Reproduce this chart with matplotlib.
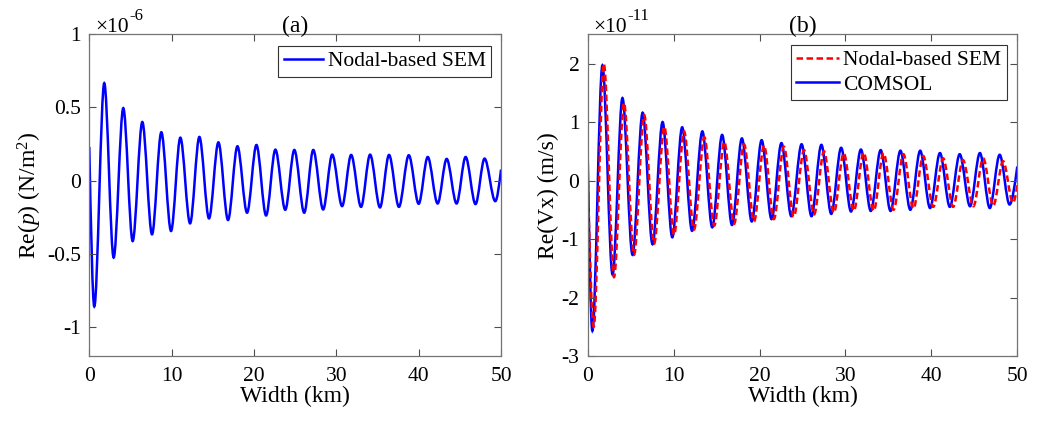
import numpy as np
import matplotlib
matplotlib.use('Agg')
import matplotlib.pyplot as plt
from matplotlib.path import Path
from matplotlib.patches import PathPatch
from matplotlib.lines import Line2D

plt.rcParams['font.family'] = ['Liberation Serif', 'DejaVu Serif']
plt.rcParams['mathtext.fontset'] = 'custom'
plt.rcParams['mathtext.rm'] = 'Liberation Serif'
plt.rcParams['mathtext.it'] = 'Liberation Serif:italic'
plt.rcParams['axes.unicode_minus'] = False

# ---- panel (a): Re(p), x1e-6, start / extrema / end
pa_x = [0.0, 0.61, 1.82, 2.96, 4.13, 5.27, 6.44, 7.62, 8.75, 9.93, 11.06,
        12.24, 13.37, 14.54, 15.68, 16.85, 17.99, 19.16, 20.3, 21.47, 22.6,
        23.8, 24.9, 26.1, 27.2, 28.4, 29.5, 30.7, 31.8, 33.0, 34.1, 35.3,
        36.4, 37.6, 38.8, 40.0, 41.1, 42.3, 43.4, 44.6, 45.7, 46.9, 48.0,
        49.3, 50.0]
pa_y = [0.23, -0.861, 0.666, -0.527, 0.495, -0.414, 0.40, -0.368, 0.33,
        -0.345, 0.293, -0.293, 0.298, -0.259, 0.261, -0.27, 0.234, -0.22,
        0.243, -0.239, 0.211, -0.20, 0.209, -0.22, 0.209, -0.198, 0.177,
        -0.175, 0.175, -0.18, 0.177, -0.184, 0.175, -0.18, 0.173, -0.159,
        0.161, -0.157, 0.148, -0.157, 0.161, -0.161, 0.15, -0.141, 0.075]

# ---- panel (b): Re(Vx), x1e-11
com_x = [0.0, 0.55, 1.72, 2.9, 4.05, 5.22, 6.4, 7.55, 8.72, 9.85, 11.0,
         12.15, 13.35, 14.5, 15.65, 16.8, 17.95, 19.1, 20.25, 21.4, 22.55,
         23.7, 24.9, 26.05, 27.2, 28.35, 29.5, 30.65, 31.8, 32.95, 34.1,
         35.25, 36.4, 37.55, 38.7, 39.85, 41.0, 42.15, 43.3, 44.5, 45.65,
         46.8, 47.95, 49.1, 50.0]
com_y = [0.49, -2.57, 1.97, -1.61, 1.41, -1.27, 1.16, -1.09, 1.0, -0.97,
         0.91, -0.86, 0.84, -0.80, 0.78, -0.76, 0.72, -0.70, 0.69, -0.66,
         0.64, -0.61, 0.62, -0.61, 0.61, -0.57, 0.56, -0.53, 0.53, -0.52,
         0.52, -0.52, 0.51, -0.50, 0.51, -0.47, 0.47, -0.45, 0.45, -0.44,
         0.47, -0.47, 0.44, -0.41, 0.24]

sem_x = [0.0, 0.7, 1.88, 3.07, 4.22, 5.4, 6.58, 7.73, 8.92, 10.05, 11.22,
         12.37, 13.58, 14.73, 15.9, 17.04, 18.2, 19.36, 20.52, 21.67, 22.83,
         23.98, 25.18, 26.35, 27.5, 28.65, 29.8, 30.97, 32.12, 33.28, 34.43,
         35.6, 36.75, 37.91, 39.05, 40.22, 41.37, 42.53, 43.68, 44.89, 46.03,
         47.2, 48.35, 49.5, 50.0]
sem_y = [0.15, -2.5, 2.0, -1.65, 1.33, -1.27, 1.12, -1.08, 0.92, -0.93,
         0.84, -0.84, 0.74, -0.77, 0.66, -0.74, 0.62, -0.70, 0.60, -0.66,
         0.58, -0.62, 0.52, -0.58, 0.50, -0.55, 0.47, -0.52, 0.48, -0.52,
         0.47, -0.50, 0.45, -0.48, 0.42, -0.45, 0.38, -0.45, 0.35, -0.44,
         0.38, -0.43, 0.33, -0.38, -0.08]


def wave_path(xs, ys):
    # cubic bezier pieces with flat tangents at the extrema
    verts = [(xs[0], ys[0])]
    codes = [Path.MOVETO]
    n = len(xs)
    for i in range(n - 1):
        x0, y0, x1, y1 = xs[i], ys[i], xs[i + 1], ys[i + 1]
        d = (x1 - x0) / 3.0
        k = 1.5 * (y1 - y0) / (x1 - x0)
        c0 = (x0 + d, y0 + (k * d if i == 0 else 0))
        c1 = (x1 - d, y1 - (k * d if i == n - 2 else 0))
        verts += [c0, c1, (x1, y1)]
        codes += [Path.CURVE4] * 3
    return Path(verts, codes)


def style_axes(ax, yticks, ylim):
    ax.set_xlim(0, 50)
    ax.set_ylim(*ylim)
    ax.set_xticks([0, 10, 20, 30, 40, 50])
    ax.set_yticks(yticks)
    ax.tick_params(direction='in', top=True, right=True, length=5,
                   width=0.8, color='0.3', labelsize=15.5)
    ax.tick_params(axis='x', pad=8)
    ax.tick_params(axis='y', pad=6)
    for s in ax.spines.values():
        s.set_color('0.45')
        s.set_linewidth(0.9)
    ax.set_xlabel('Width (km)', fontsize=17, labelpad=0)


def exponent(ax, x0, power):
    t = ax.text(x0, 1.007, '\u00d710', transform=ax.transAxes,
                fontsize=15.5, va='baseline', ha='left')
    ax.annotate(power, xy=(1, 0), xycoords=t, xytext=(0.5, 9.5),
                textcoords='offset points', fontsize=12,
                va='bottom', ha='left')


fig = plt.figure(figsize=(10.64, 4.21), dpi=100)
ax1 = fig.add_axes([0.0839, 0.1544, 0.3870, 0.7641])
ax2 = fig.add_axes([0.5523, 0.1544, 0.4038, 0.7641])

# (a)
ax1.add_patch(PathPatch(wave_path(pa_x, pa_y), fill=False,
                        edgecolor='#0000ff', lw=1.8))
style_axes(ax1, [-1, -0.5, 0, 0.5, 1], (-1.2, 1.0))
ax1.set_yticklabels(['-1', '-0.5', '0', '0.5', '1'])
ax1.set_ylabel('Re($\\it{p}$) (N/m$^2$)', fontsize=17, labelpad=2)
ax1.set_title('(a)', fontsize=17, pad=2)
exponent(ax1, 0.014, '-6')
ax1.legend([Line2D([], [], color='#0000ff', lw=1.8)], ['Nodal-based SEM'],
           loc='upper right', bbox_to_anchor=(0.9757, 0.9646),
           borderaxespad=0, fontsize=15.5, handlelength=1.85,
           handletextpad=0.2, borderpad=0.25, fancybox=False,
           edgecolor='0.2', framealpha=1).get_frame().set_linewidth(0.8)

# (b)
ax2.add_patch(PathPatch(wave_path(com_x, com_y), fill=False,
                        edgecolor='#0000ff', lw=1.8))
ax2.add_patch(PathPatch(wave_path(sem_x, sem_y), fill=False,
                        edgecolor='#ff0000', lw=1.8,
                        linestyle=(0, (2.6, 1.4))))
style_axes(ax2, [-3, -2, -1, 0, 1, 2], (-3, 2.5))
ax2.set_ylabel('Re(Vx) (m/s)', fontsize=17, labelpad=2)
ax2.set_title('(b)', fontsize=17, pad=2)
exponent(ax2, 0.012, '-11')
h_sem = Line2D([], [], color='#ff0000', lw=1.8, linestyle=(0, (2.6, 1.4)))
h_com = Line2D([], [], color='#0000ff', lw=1.8)
ax2.legend([h_sem, h_com], ['Nodal-based SEM', 'COMSOL'],
           loc='upper right', bbox_to_anchor=(0.9753, 0.9667),
           borderaxespad=0, fontsize=15.5, handlelength=2.0,
           handletextpad=0.2, borderpad=0.25, labelspacing=0.2,
           fancybox=False, edgecolor='0.2',
           framealpha=1).get_frame().set_linewidth(0.8)

fig.savefig('out.png', dpi=100)
